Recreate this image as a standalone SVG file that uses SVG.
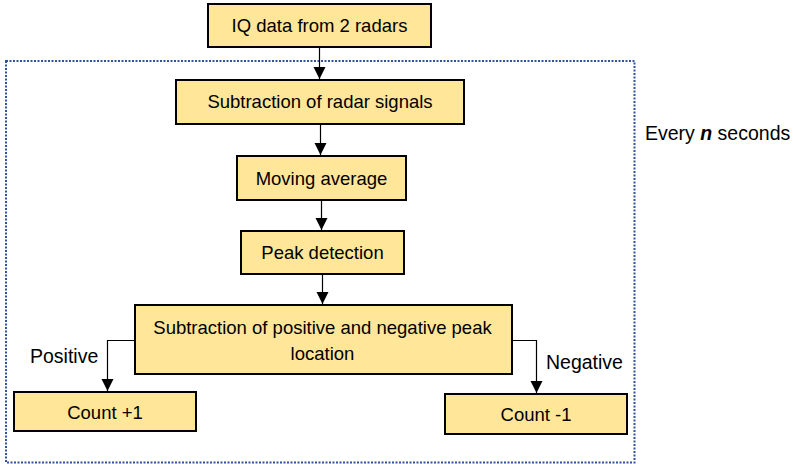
<svg xmlns="http://www.w3.org/2000/svg" width="793" height="464" viewBox="0 0 793 464">
<style>
.box{fill:#FFE699;stroke:#000;stroke-width:2}
.t{font-family:"Liberation Sans",Arial,sans-serif;font-size:18.5px;fill:#000}
.lbl{font-size:19.5px}
.c{text-anchor:middle}
.conn{fill:none;stroke:#000;stroke-width:1.2}
.frame{fill:none;stroke:#2F5597;stroke-width:2;stroke-dasharray:2 1.5}
</style>
<defs>
<marker id="ah" markerUnits="userSpaceOnUse" markerWidth="12" markerHeight="13" refX="12" refY="6" orient="auto">
<path d="M0,0 L12,6 L0,12 Z" fill="#000"/>
</marker>
</defs>
<rect class="frame" x="6" y="61" width="628.5" height="401.5"/>
<text class="t lbl" x="645" y="140">Every <tspan font-weight="bold" font-style="italic">n</tspan> seconds</text>
<g id="connectors">
<path class="conn" d="M319.5,47 V79" marker-end="url(#ah)"/>
<path class="conn" d="M320.5,124 V155" marker-end="url(#ah)"/>
<path class="conn" d="M321.5,200 V230" marker-end="url(#ah)"/>
<path class="conn" d="M322.5,274 V304" marker-end="url(#ah)"/>
<path class="conn" d="M135,340.5 H107.5 V391" marker-end="url(#ah)"/>
<path class="conn" d="M512,340.5 H536.5 V393" marker-end="url(#ah)"/>
<text class="t lbl" x="30" y="363">Positive</text>
<text class="t lbl" x="546" y="369">Negative</text>
</g>
<g id="n1"><rect class="box" x="208" y="4" width="223" height="43"/><text class="t c" x="319.5" y="32">IQ data from 2 radars</text></g>
<g id="n2"><rect class="box" x="176" y="80" width="288" height="44"/><text class="t c" x="320" y="108">Subtraction of radar signals</text></g>
<g id="n3"><rect class="box" x="237" y="156" width="169" height="44"/><text class="t c" x="321.5" y="185">Moving average</text></g>
<g id="n4"><rect class="box" x="241" y="231" width="163" height="43"/><text class="t c" x="322.5" y="259">Peak detection</text></g>
<g id="n5"><rect class="box" x="135" y="305" width="377" height="69"/><text class="t c" x="322.5" y="334">Subtraction of positive and negative peak</text><text class="t c" x="322.5" y="360">location</text></g>
<g id="n6"><rect class="box" x="14" y="392" width="182" height="39"/><text class="t c" x="105" y="419">Count +1</text></g>
<g id="n7"><rect class="box" x="445" y="394" width="182" height="40"/><text class="t c" x="536" y="421">Count -1</text></g>
</svg>
